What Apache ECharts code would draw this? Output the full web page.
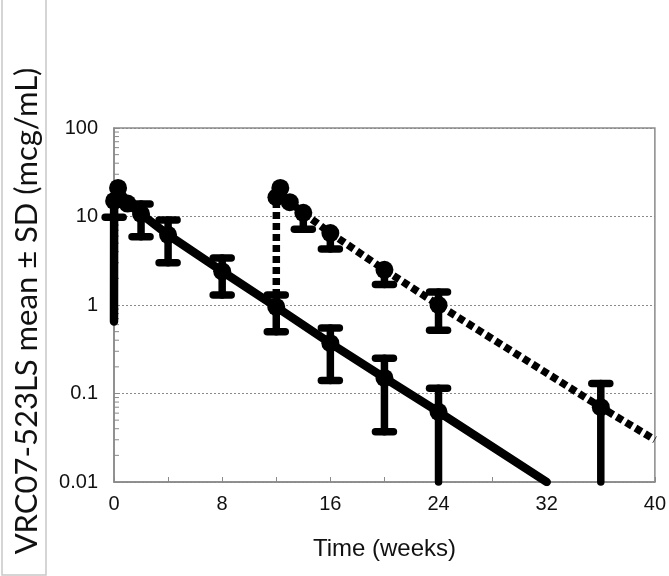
<!DOCTYPE html>
<html><head><meta charset="utf-8">
<script src="https://cdn.jsdelivr.net/npm/echarts@6/dist/echarts.min.js"></script>
<style>html,body{margin:0;padding:0;background:#fff;}#c{width:669px;height:576px;}</style>
</head><body><div id="c"></div>
<script>
// ---- data (weeks, mcg/mL) ----
const xTickLabels = [0, 8, 16, 24, 32, 40];
const yTickLabels = [0.01, 0.1, 1, 10, 100];
const yMinorTicks = [0.02,0.03,0.04,0.05,0.06,0.07,0.08,0.09,
                     0.2,0.3,0.4,0.5,0.6,0.7,0.8,0.9,
                     2,3,4,5,6,7,8,9,
                     20,30,40,50,60,70,80,90];

// solid group
const solidT      = [0,    0.01, 0.3, 1,  2,    4,   8,   12,   16,   20,   24,    32];
const solidMean   = [0.65, 15,   21,  14, 10.7, 6.2, 2.4, 0.95, 0.37, 0.15, 0.062, 0.01];
const solidMarker = [false,true, true,true,true,true,true,true, true, true, true,  false];
const solidErrT    = [0.01, 2,    4,   8,   12,   16,   20,    24];
const solidErrMean = [15,   10.7, 6.2, 2.4, 0.95, 0.37, 0.15,  0.062];
const solidErrLow  = [9.8,  5.9,  3.0, 1.3, 0.5,  0.14, 0.037, 0.005];
const solidErrHigh = [null, 13.8, 9.1, 3.4, 1.3,  0.55, 0.25,  0.115];

// dotted group
const dotT      = [12,    12.01, 12.3, 13,   14, 16,  20,  24,  36,   40];
const dotMean   = [0.95,  16.5,  21,   14.5, 11, 6.5, 2.5, 1.0, 0.07, 0.03];
const dotMarker = [false, true,  true, true, true,true,true,true,true, false];
const dotErrT    = [14,   16,   20,   24,   36];
const dotErrMean = [11,   6.5,  2.5,  1.0,  0.07];
const dotErrLow  = [7.2,  4.3,  1.7,  0.52, 0.005];
const dotErrHigh = [null, null, null, 1.4,  0.13];

const YMIN = 0.01, YMAX = 100;

function lineData(ts, ms, mk) {
  return ts.map((t, i) => mk[i] ? [t, ms[i]] : { value: [t, ms[i]], symbol: 'none' });
}

function errSeries(ts, means, lows, highs) {
  return {
    type: 'custom', z: 5, silent: true,
    data: ts.map((t, i) => [t, means[i]]),
    renderItem: function (params, api) {
      const i = params.dataIndex;
      const t = ts[i];
      const cs = params.coordSys;
      const yBottom = cs.y + cs.height;
      const pm = api.coord([t, means[i]]);
      const st = { stroke: '#000', lineWidth: 7.5, lineCap: 'round' };
      const ch = [];
      const half = 9;
      let yTop = pm[1], yLow = pm[1];
      if (highs[i] != null) {
        const ph = api.coord([t, highs[i]]);
        yTop = ph[1];
        ch.push({ type: 'line', shape: { x1: ph[0] - half, y1: ph[1], x2: ph[0] + half, y2: ph[1] }, style: st });
      }
      if (lows[i] != null) {
        if (lows[i] >= YMIN) {
          const pl = api.coord([t, lows[i]]);
          yLow = pl[1];
          ch.push({ type: 'line', shape: { x1: pl[0] - half, y1: pl[1], x2: pl[0] + half, y2: pl[1] }, style: st });
        } else {
          yLow = yBottom;
        }
      }
      ch.push({ type: 'line', shape: { x1: pm[0], y1: yTop, x2: pm[0], y2: yLow }, style: st });
      return { type: 'group', children: ch };
    }
  };
}

const chart = echarts.init(document.getElementById('c'), null, { renderer: 'canvas' });
const labelFont = { fontFamily: 'Liberation Sans, Arial, sans-serif', fontSize: 20, color: '#111' };

chart.setOption({
  animation: false,
  backgroundColor: '#fff',
  grid: { left: 114, right: 13, top: 128, bottom: 94, show: true, borderColor: '#8a8a8a', borderWidth: 1.5 },
  xAxis: {
    type: 'value', min: 0, max: 40, interval: 8,
    name: 'Time (weeks)', nameLocation: 'middle', nameGap: 55,
    nameTextStyle: { fontFamily: 'Liberation Sans, Arial, sans-serif', fontSize: 24, color: '#111' },
    axisLine: { lineStyle: { color: '#8a8a8a', width: 1.5 } },
    axisTick: { show: true, inside: true, length: 5, lineStyle: { color: '#8a8a8a' } },
    minorTick: { show: true, splitNumber: 2, length: 5, lineStyle: { color: '#8a8a8a' } },
    axisLabel: Object.assign({ margin: 12, formatter: v => xTickLabels.includes(v) ? String(v) : '' }, labelFont),
    splitLine: { show: false }
  },
  yAxis: {
    type: 'log', logBase: 10, min: YMIN, max: YMAX,
    axisLine: { show: true, lineStyle: { color: '#8a8a8a', width: 1.5 } },
    axisTick: { show: true, inside: true, length: 5, lineStyle: { color: '#8a8a8a' } },
    axisLabel: Object.assign({ margin: 16, formatter: v => {
      const m = yTickLabels.find(t => Math.abs(Math.log10(t) - Math.log10(v)) < 1e-6);
      return m != null ? String(m) : '';
    } }, labelFont),
    splitLine: { show: true, lineStyle: { type: [2, 2], color: '#8a8a8a', width: 1 } }
  },
  graphic: [
    { type: 'rect', shape: { x: 2, y: -2, width: 44, height: 577 }, style: { fill: 'none', stroke: '#c8c8c8', lineWidth: 1.5 } },
    { type: 'text', x: 27, y: 311, rotation: Math.PI / 2,
      style: { text: 'VRC07-523LS mean ± SD (mcg/mL)', font: '31px Lato, "Open Sans", sans-serif', fill: '#111', align: 'center', verticalAlign: 'middle' } }
  ],
  series: [
    {
      type: 'custom', silent: true, z: 1,
      data: yMinorTicks.map(v => [0, v]),
      renderItem: function (params, api) {
        const p = api.coord([0, yMinorTicks[params.dataIndex]]);
        return { type: 'line', shape: { x1: p[0], y1: p[1], x2: p[0] + 5, y2: p[1] }, style: { stroke: '#8a8a8a', lineWidth: 1 } };
      }
    },
    {
      type: 'line', z: 4, data: lineData(solidT, solidMean, solidMarker),
      symbol: 'circle', symbolSize: 18, showAllSymbol: true,
      itemStyle: { color: '#000' },
      lineStyle: { color: '#000', width: 8.5, cap: 'round' }
    },
    {
      type: 'line', z: 4, data: lineData(dotT, dotMean, dotMarker),
      symbol: 'circle', symbolSize: 18, showAllSymbol: true,
      itemStyle: { color: '#000' },
      lineStyle: { color: '#000', width: 7.5, type: [7, 4] }
    },
    errSeries(solidErrT, solidErrMean, solidErrLow, solidErrHigh),
    errSeries(dotErrT, dotErrMean, dotErrLow, dotErrHigh)
  ]
});
</script></body></html>
